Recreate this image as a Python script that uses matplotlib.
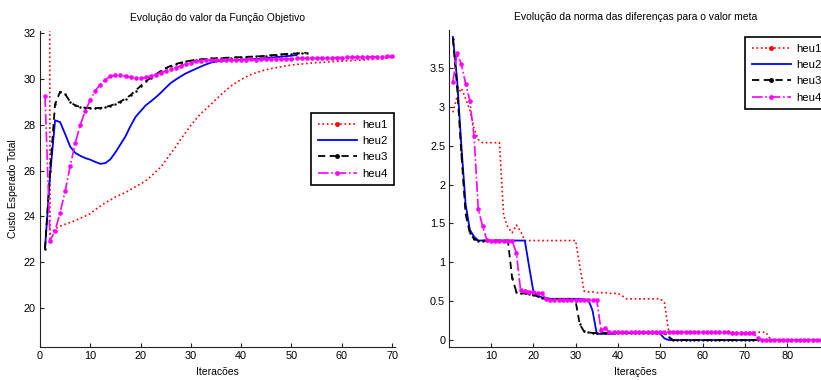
import matplotlib
matplotlib.use("Agg")
import matplotlib.pyplot as plt
from matplotlib.lines import Line2D
import numpy as np

plt.rcParams['font.family'] = ['Liberation Sans', 'DejaVu Sans']

# ---------------- Left chart data ----------------
title_left = "Evolução do valor da Função Objetivo"
xlabel_left = "Iteracões"
ylabel_left = "Custo Esperado Total"
left_xticks = [0, 10, 20, 30, 40, 50, 60, 70]
left_yticks = [20, 22, 24, 26, 28, 30, 32]

left_heu1 = [150, 23.25, 23.45, 23.58, 23.66, 23.74, 23.82, 23.92, 24.02, 24.12,
             24.30, 24.45, 24.60, 24.72, 24.85, 24.95, 25.05, 25.17, 25.30, 25.42,
             25.56, 25.74, 25.95, 26.15, 26.45, 26.75, 27.05, 27.38, 27.68, 27.98,
             28.25, 28.50, 28.70, 28.90, 29.12, 29.32, 29.52, 29.70, 29.85, 29.98,
             30.10, 30.20, 30.28, 30.35, 30.41, 30.46, 30.50, 30.54, 30.58, 30.61,
             30.64, 30.66, 30.68, 30.70, 30.72, 30.73, 30.74, 30.76, 30.77, 30.78,
             30.80, 30.81, 30.82, 30.83, 30.85, 30.86, 30.88, 30.90, 30.92, 30.95]
left_heu2 = [22.60, 25.80, 28.20, 28.12, 27.60, 27.05, 26.78, 26.65, 26.55, 26.48,
             26.38, 26.30, 26.33, 26.50, 26.80, 27.15, 27.50, 27.95, 28.35, 28.60,
             28.85, 29.02, 29.20, 29.40, 29.62, 29.83, 29.98, 30.12, 30.25, 30.35,
             30.45, 30.55, 30.64, 30.72, 30.77, 30.80, 30.82, 30.83, 30.84, 30.85,
             30.86, 30.87, 30.88, 30.90, 30.92, 30.94, 30.96, 30.98, 31.00, 31.02,
             31.05]
left_heu3 = [22.60, 26.00, 28.90, 29.45, 29.35, 29.00, 28.85, 28.78, 28.75, 28.74,
             28.73, 28.74, 28.78, 28.84, 28.92, 29.02, 29.15, 29.30, 29.50, 29.70,
             29.90, 30.05, 30.20, 30.35, 30.48, 30.58, 30.66, 30.72, 30.77, 30.81,
             30.84, 30.86, 30.88, 30.90, 30.91, 30.92, 30.93, 30.94, 30.95, 30.96,
             30.97, 30.98, 30.99, 31.00, 31.02, 31.04, 31.06, 31.08, 31.10, 31.11,
             31.12, 31.13, 31.15]
left_heu4 = [29.25, 22.95, 23.38, 24.17, 25.10, 26.20, 27.20, 28.00, 28.60, 29.10,
             29.50, 29.76, 29.98, 30.12, 30.18, 30.17, 30.13, 30.08, 30.04, 30.03,
             30.07, 30.13, 30.20, 30.28, 30.35, 30.42, 30.50, 30.58, 30.65, 30.72,
             30.77, 30.81, 30.83, 30.84, 30.84, 30.85, 30.84, 30.85, 30.85, 30.84,
             30.85, 30.86, 30.85, 30.86, 30.87, 30.86, 30.87, 30.88, 30.88, 30.89,
             30.90, 30.90, 30.91, 30.91, 30.92, 30.92, 30.93, 30.93, 30.94, 30.94,
             30.95, 30.95, 30.96, 30.96, 30.97, 30.97, 30.98, 30.98, 30.99, 31.00]

# ---------------- Right chart data ----------------
title_right = "Evolução da norma das diferenças para o valor meta"
xlabel_right = "Iterações"
right_xticks = [10, 20, 30, 40, 50, 60, 70, 80]
right_yticks = [0, 0.5, 1, 1.5, 2, 2.5, 3, 3.5]
right_yticklabels = ["0", "0.5", "1", "1.5", "2", "2.5", "3", "3.5"]

right_heu1 = [2.93, 3.14, 3.24, 3.11, 2.96, 2.72, 2.58, 2.54, 2.54, 2.54,
              2.54, 2.54, 1.60, 1.45, 1.38, 1.48, 1.40, 1.28, 1.28, 1.28,
              1.28, 1.28, 1.28, 1.28, 1.28, 1.28, 1.28, 1.28, 1.28, 1.28,
              0.95, 0.63, 0.62, 0.62, 0.61, 0.61, 0.61, 0.60, 0.60, 0.60,
              0.57, 0.53, 0.53, 0.53, 0.53, 0.53, 0.53, 0.53, 0.53, 0.53,
              0.48, 0.11, 0.10, 0.10, 0.10, 0.10, 0.10, 0.10, 0.10, 0.10,
              0.10, 0.10, 0.10, 0.10, 0.10, 0.10, 0.10, 0.10, 0.10, 0.10,
              0.10, 0.10, 0.10, 0.10, 0.10, 0.01, 0.0, 0.0, 0.0, 0.0,
              0.0, 0.0, 0.0, 0.0, 0.0, 0.0, 0.0, 0.0, 0.0, 0.0]
right_heu2 = [3.90, 3.35, 2.50, 1.75, 1.42, 1.33, 1.28, 1.28, 1.28, 1.28,
              1.28, 1.28, 1.28, 1.28, 1.28, 1.28, 1.28, 1.28, 0.95, 0.63,
              0.57, 0.55, 0.54, 0.53, 0.53, 0.53, 0.53, 0.53, 0.53, 0.53,
              0.53, 0.52, 0.52, 0.38, 0.08, 0.08, 0.08, 0.08, 0.08, 0.09,
              0.09, 0.09, 0.09, 0.09, 0.09, 0.09, 0.09, 0.09, 0.09, 0.08,
              0.02, 0.0, 0.0, 0.0, 0.0, 0.0, 0.0, 0.0, 0.0, 0.0,
              0.0, 0.0, 0.0, 0.0, 0.0, 0.0, 0.0, 0.0, 0.0, 0.0,
              0.0, 0.0, 0.0]
right_heu3 = [3.88, 3.25, 2.40, 1.62, 1.38, 1.30, 1.28, 1.28, 1.28, 1.28,
              1.28, 1.28, 1.28, 1.28, 0.80, 0.62, 0.60, 0.60, 0.59, 0.58,
              0.56, 0.54, 0.53, 0.53, 0.53, 0.53, 0.53, 0.53, 0.53, 0.50,
              0.20, 0.11, 0.10, 0.09, 0.09, 0.09, 0.09, 0.09, 0.09, 0.09,
              0.09, 0.09, 0.09, 0.09, 0.09, 0.09, 0.09, 0.09, 0.09, 0.09,
              0.09, 0.04, 0.0, 0.0, 0.0, 0.0, 0.0, 0.0, 0.0, 0.0,
              0.0, 0.0, 0.0, 0.0, 0.0, 0.0, 0.0, 0.0, 0.0, 0.0,
              0.0, 0.0, 0.0]
right_heu4 = [3.32, 3.69, 3.55, 3.30, 3.08, 2.62, 1.68, 1.47, 1.29, 1.28,
              1.28, 1.28, 1.28, 1.28, 1.28, 1.12, 0.64, 0.63, 0.62, 0.62,
              0.61, 0.60, 0.53, 0.52, 0.52, 0.52, 0.52, 0.52, 0.52, 0.52,
              0.52, 0.52, 0.52, 0.52, 0.52, 0.13, 0.15, 0.10, 0.10, 0.10,
              0.10, 0.10, 0.10, 0.10, 0.10, 0.10, 0.10, 0.10, 0.10, 0.10,
              0.10, 0.10, 0.10, 0.10, 0.10, 0.10, 0.10, 0.10, 0.10, 0.10,
              0.10, 0.10, 0.10, 0.10, 0.10, 0.10, 0.088, 0.088, 0.088, 0.088,
              0.088, 0.088, 0.03, 0.0, 0.0, 0.0, 0.0, 0.0, 0.0, 0.0,
              0.0, 0.0, 0.0, 0.0, 0.0, 0.0, 0.0, 0.0, 0.0, 0.0]

labels = ["heu1", "heu2", "heu3", "heu4"]
colors = ['#ff0000', '#0000ff', '#000000', '#ff00ff']

FS = 7.5

fig = plt.figure(figsize=(8.21, 3.80), dpi=100)
W, H = 821.0, 380.0
axL = fig.add_axes([40 / W, 33 / H, 354.6 / W, 316 / H])
axR = fig.add_axes([449.3 / W, 33 / H, (821 - 449.3) / W, 317 / H])

dash3 = (0, (4, 2.5))


def style_series(ax, h1, h2, h3, h4):
    x1 = np.arange(1, len(h1) + 1)
    x2 = np.arange(1, len(h2) + 1)
    x3 = np.arange(1, len(h3) + 1)
    x4 = np.arange(1, len(h4) + 1)
    ax.plot(x1, h1, color=colors[0], linestyle=':', linewidth=1.2)
    ax.plot(x2, h2, color=colors[1], linestyle='-', linewidth=1.3)
    ax.plot(x3, h3, color=colors[2], linestyle=dash3, linewidth=1.3,
            marker='.', markersize=1.5)
    ax.plot(x4, h4, color=colors[3], linestyle='-.', linewidth=1.2, marker='o',
            markersize=3.3, markeredgewidth=0)


def legend_handles():
    return [
        Line2D([], [], color=colors[0], linestyle=':', linewidth=1.2,
               marker='.', markersize=5),
        Line2D([], [], color=colors[1], linestyle='-', linewidth=1.3),
        Line2D([], [], color=colors[2], linestyle=dash3, linewidth=1.3,
               marker='.', markersize=5),
        Line2D([], [], color=colors[3], linestyle='-.', linewidth=1.2,
               marker='o', markersize=3.5, markeredgewidth=0),
    ]


def style_axes(ax):
    for s in ['top', 'right']:
        ax.spines[s].set_visible(False)
    for s in ['left', 'bottom']:
        ax.spines[s].set_linewidth(0.8)
        ax.spines[s].set_color('#222222')
    ax.tick_params(direction='in', length=3, width=0.8, labelsize=FS + 0.3, pad=3,
                   colors='#222222', labelcolor='black')


def add_legend(ax, x0, y0):
    leg = ax.legend(legend_handles(), labels, loc='upper left',
                    bbox_to_anchor=(x0 / W, 1 - y0 / H),
                    bbox_transform=fig.transFigure, borderaxespad=0,
                    fontsize=FS + 0.7, handlelength=3.4, labelspacing=0.55,
                    borderpad=0.6, handletextpad=0.5, fancybox=False,
                    framealpha=1, numpoints=1)
    leg.get_frame().set_edgecolor('black')
    leg.get_frame().set_linewidth(1.2)
    return leg


style_series(axL, left_heu1, left_heu2, left_heu3, left_heu4)
axL.set_xlim(0, 70.5)
axL.set_ylim(18.3, 32.1)
axL.set_xticks(left_xticks)
axL.set_yticks(left_yticks)
axL.set_title(title_left, fontsize=FS, pad=7)
axL.set_xlabel(xlabel_left, fontsize=FS, labelpad=4.5)
axL.set_ylabel(ylabel_left, fontsize=FS, labelpad=4)
style_axes(axL)
add_legend(axL, 311, 113)

style_series(axR, right_heu1, right_heu2, right_heu3, right_heu4)
axR.set_xlim(0.15, 88.0)
axR.set_ylim(-0.09, 3.99)
axR.set_xticks(right_xticks)
axR.set_yticks(right_yticks)
axR.set_yticklabels(right_yticklabels)
axR.set_title(title_right, fontsize=FS, pad=7)
axR.set_xlabel(xlabel_right, fontsize=FS, labelpad=4.5)
style_axes(axR)
add_legend(axR, 745, 37)

fig.savefig("out.png", dpi=100)
